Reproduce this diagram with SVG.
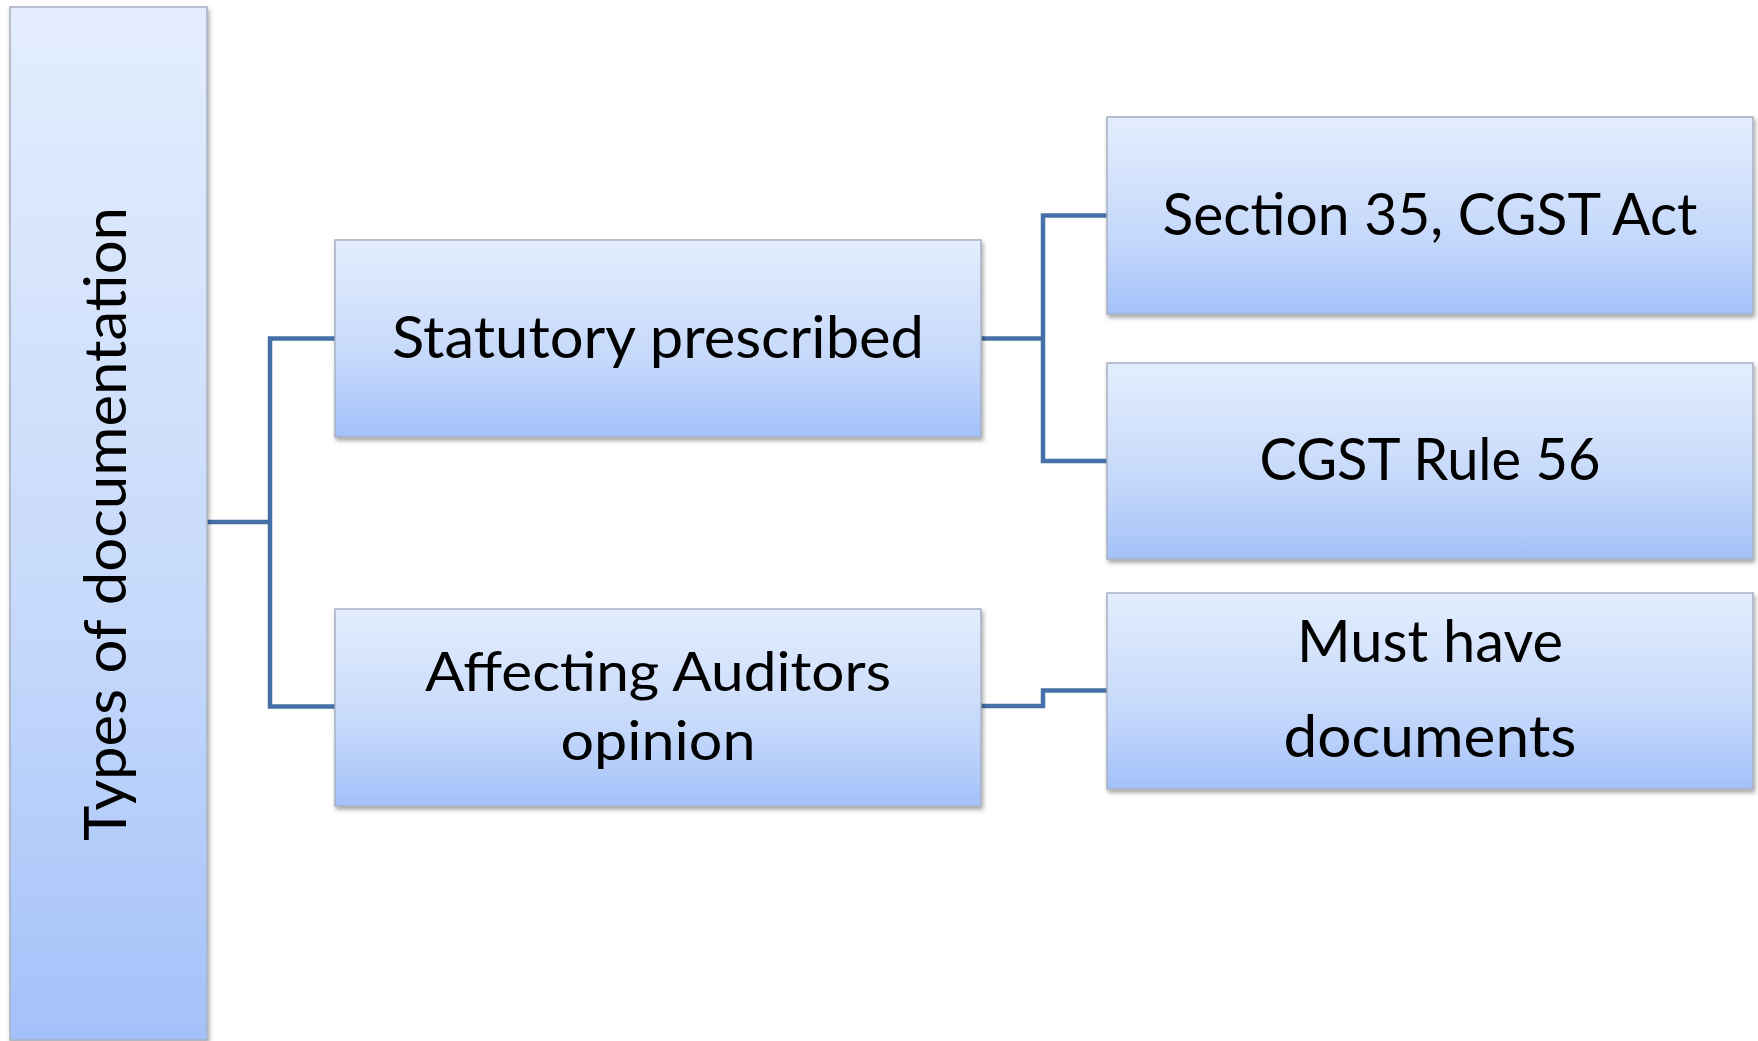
<svg xmlns="http://www.w3.org/2000/svg" width="1758" height="1041" viewBox="0 0 1758 1041">
<defs>
<linearGradient id="g" x1="0" y1="0" x2="0" y2="1">
<stop offset="0" stop-color="#e3edfd"/>
<stop offset="0.6" stop-color="#c6d9fb"/>
<stop offset="1" stop-color="#a3c1f9"/>
</linearGradient>
<filter id="sh" x="-5%" y="-5%" width="110%" height="115%">
<feDropShadow dx="1.5" dy="3" stdDeviation="2" flood-color="#000" flood-opacity="0.35"/>
</filter>
</defs>
<style>
.box{fill:url(#g);stroke:#a8b0bf;stroke-width:1.5;filter:url(#sh)}
.t{font-family:Lato,"Open Sans","Liberation Sans",sans-serif;font-size:58px;fill:#000;text-anchor:middle}
.c{fill:none;stroke:#4670a8;stroke-width:4.5;stroke-linejoin:miter}
</style>
<rect width="1758" height="1041" fill="#fff"/>
<g id="connectors">
<path class="c" d="M207,522 H270"/>
<path class="c" d="M335,338.5 H270 V706.5 H335"/>
<path class="c" d="M981,338.5 H1043"/>
<path class="c" d="M1107,215.5 H1043 V461 H1107"/>
<path class="c" d="M981,706 H1043 V690.5 H1107"/>
</g>
<g id="types">
<rect class="box" x="10" y="7" width="197" height="1033"/>
<text class="t" transform="translate(126,524) rotate(-90)" textLength="634" lengthAdjust="spacingAndGlyphs">Types of documentation</text>
</g>
<g id="statutory">
<rect class="box" x="335" y="240" width="646" height="197"/>
<text class="t" x="658" y="358" textLength="532" lengthAdjust="spacingAndGlyphs">Statutory prescribed</text>
</g>
<g id="affecting">
<rect class="box" x="335" y="609" width="646" height="197"/>
<text class="t" x="658" y="691" style="font-size:55px" textLength="466" lengthAdjust="spacingAndGlyphs">Affecting Auditors</text>
<text class="t" x="658" y="760" style="font-size:55px" textLength="195" lengthAdjust="spacingAndGlyphs">opinion</text>
</g>
<g id="section35">
<rect class="box" x="1107" y="117" width="646" height="197"/>
<text class="t" x="1430" y="235" textLength="535" lengthAdjust="spacingAndGlyphs">Section 35, CGST Act</text>
</g>
<g id="rule56">
<rect class="box" x="1107" y="363" width="646" height="196"/>
<text class="t" x="1430" y="480" textLength="341" lengthAdjust="spacingAndGlyphs">CGST Rule 56</text>
</g>
<g id="musthave">
<rect class="box" x="1107" y="593" width="646" height="196"/>
<text class="t" x="1430" y="662" textLength="266" lengthAdjust="spacingAndGlyphs">Must have</text>
<text class="t" x="1430" y="757" textLength="293" lengthAdjust="spacingAndGlyphs">documents</text>
</g>
</svg>
